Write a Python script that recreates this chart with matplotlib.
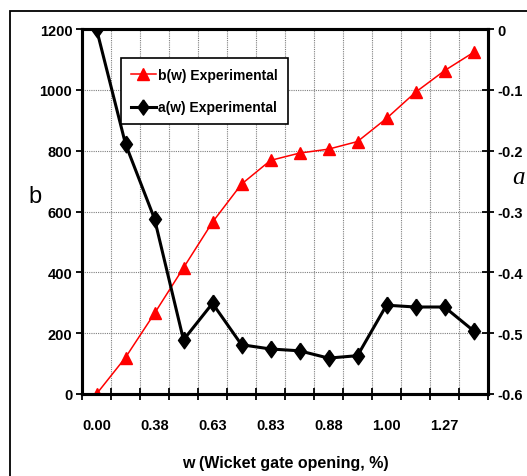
import numpy as np
import matplotlib
matplotlib.use('Agg')
import matplotlib.pyplot as plt
from matplotlib.patches import Rectangle
from matplotlib.lines import Line2D

plt.rcParams['font.family'] = ['Liberation Sans', 'DejaVu Sans']

# wicket gate opening labels (shown on every other category)
w_labels = ['0.00', '0.38', '0.63', '0.83', '0.88', '1.00', '1.27']
n_points = 14

# b(w) experimental, left axis
b_exp = [0, 120, 265, 415, 565, 690, 768, 792, 805, 830, 906, 992, 1063, 1123]
# a(w) experimental, right axis
a_exp = [0.0, -0.189, -0.312, -0.511, -0.451, -0.519, -0.526, -0.529,
         -0.541, -0.537, -0.454, -0.457, -0.457, -0.496]

W, H = 527, 477
fig = plt.figure(figsize=(W / 100, H / 100), dpi=100)
fig.patch.set_facecolor('white')

# outer frame around the chart
fig.patches.append(Rectangle((9.5 / W, -0.1), 1.2, 1 - 12 / H + 0.1,
                             transform=fig.transFigure, fill=False,
                             edgecolor='black', linewidth=1.3))

ax = fig.add_axes([82 / W, 1 - 395 / H, (488 - 82) / W, (395 - 30) / H])
ax2 = ax.twinx()

x = np.arange(n_points)
diamond = [(0, 1), (0.72, 0), (0, -1), (-0.72, 0), (0, 1)]

ax.plot(x, b_exp, color='red', linewidth=1.1, marker='^', markersize=9,
        markeredgecolor='red', markerfacecolor='red', zorder=3)
ax2.plot(x, a_exp, color='black', linewidth=2.2, marker=diamond, markersize=12,
         markeredgecolor='black', markerfacecolor='black', zorder=3)

ax.set_xlim(-0.5, n_points - 0.5)
ax.set_ylim(0, 1200)
ax2.set_ylim(-0.6, 0)

ax.set_yticks(np.arange(0, 1201, 200))
ax2.set_yticks(np.round(np.arange(-0.6, 0.01, 0.1), 1))
ax2.set_yticklabels(['-0.6', '-0.5', '-0.4', '-0.3', '-0.2', '-0.1', '0'])

# category boundaries carry the tick marks and vertical gridlines
ax.set_xticks(np.arange(-0.5, n_points, 1.0), minor=True)
ax.set_xticks(np.arange(0, n_points, 2))
ax.set_xticklabels(w_labels)
ax.tick_params(axis='x', which='major', length=0, pad=17)
ax.tick_params(axis='x', which='minor', direction='inout', length=9, width=1.3)
ax.tick_params(axis='y', direction='out', length=4, width=1.3, pad=3)
ax2.tick_params(axis='y', direction='inout', length=8, width=1.3, pad=2.5)

for lab in ax.get_xticklabels() + ax.get_yticklabels() + ax2.get_yticklabels():
    lab.set_fontsize(10.5)
    lab.set_fontweight('bold')

ax.grid(True, which='minor', axis='x', color='#7f7f7f', linestyle=(0, (1, 1)), linewidth=0.8)
ax.grid(True, which='major', axis='y', color='#7f7f7f', linestyle=(0, (1, 1)), linewidth=0.8)
ax.set_axisbelow(True)

for a_ in (ax, ax2):
    for sp in a_.spines.values():
        sp.set_linewidth(2.2)
        sp.set_color('black')

ax.set_xlabel('w (Wicket gate opening, %)', fontsize=11.5, fontweight='bold', labelpad=17)
fig.text(35 / W, 1 - 197 / H, 'b', fontsize=17, ha='center', va='center')
fig.text(512 / W, 1 - 178 / H, 'a', fontsize=18, ha='left', va='center',
         family='Liberation Serif', style='italic')

handles = [Line2D([], [], color='red', linewidth=1.1, marker='^', markersize=9),
           Line2D([], [], color='black', linewidth=2.2, marker=diamond, markersize=11)]
leg = ax2.legend(handles, ['b(w) Experimental', 'a(w) Experimental'],
                 loc='upper left', bbox_to_anchor=((121 - 82) / 406, (395 - 59) / 365),
                 frameon=True, fancybox=False, framealpha=1, edgecolor='black',
                 prop={'weight': 'bold', 'size': 10}, handlelength=1.8,
                 handletextpad=0.2, borderpad=0.7, labelspacing=1.35, borderaxespad=0)
leg.get_frame().set_linewidth(1.2)

fig.savefig('out.png', dpi=100, facecolor='white')
